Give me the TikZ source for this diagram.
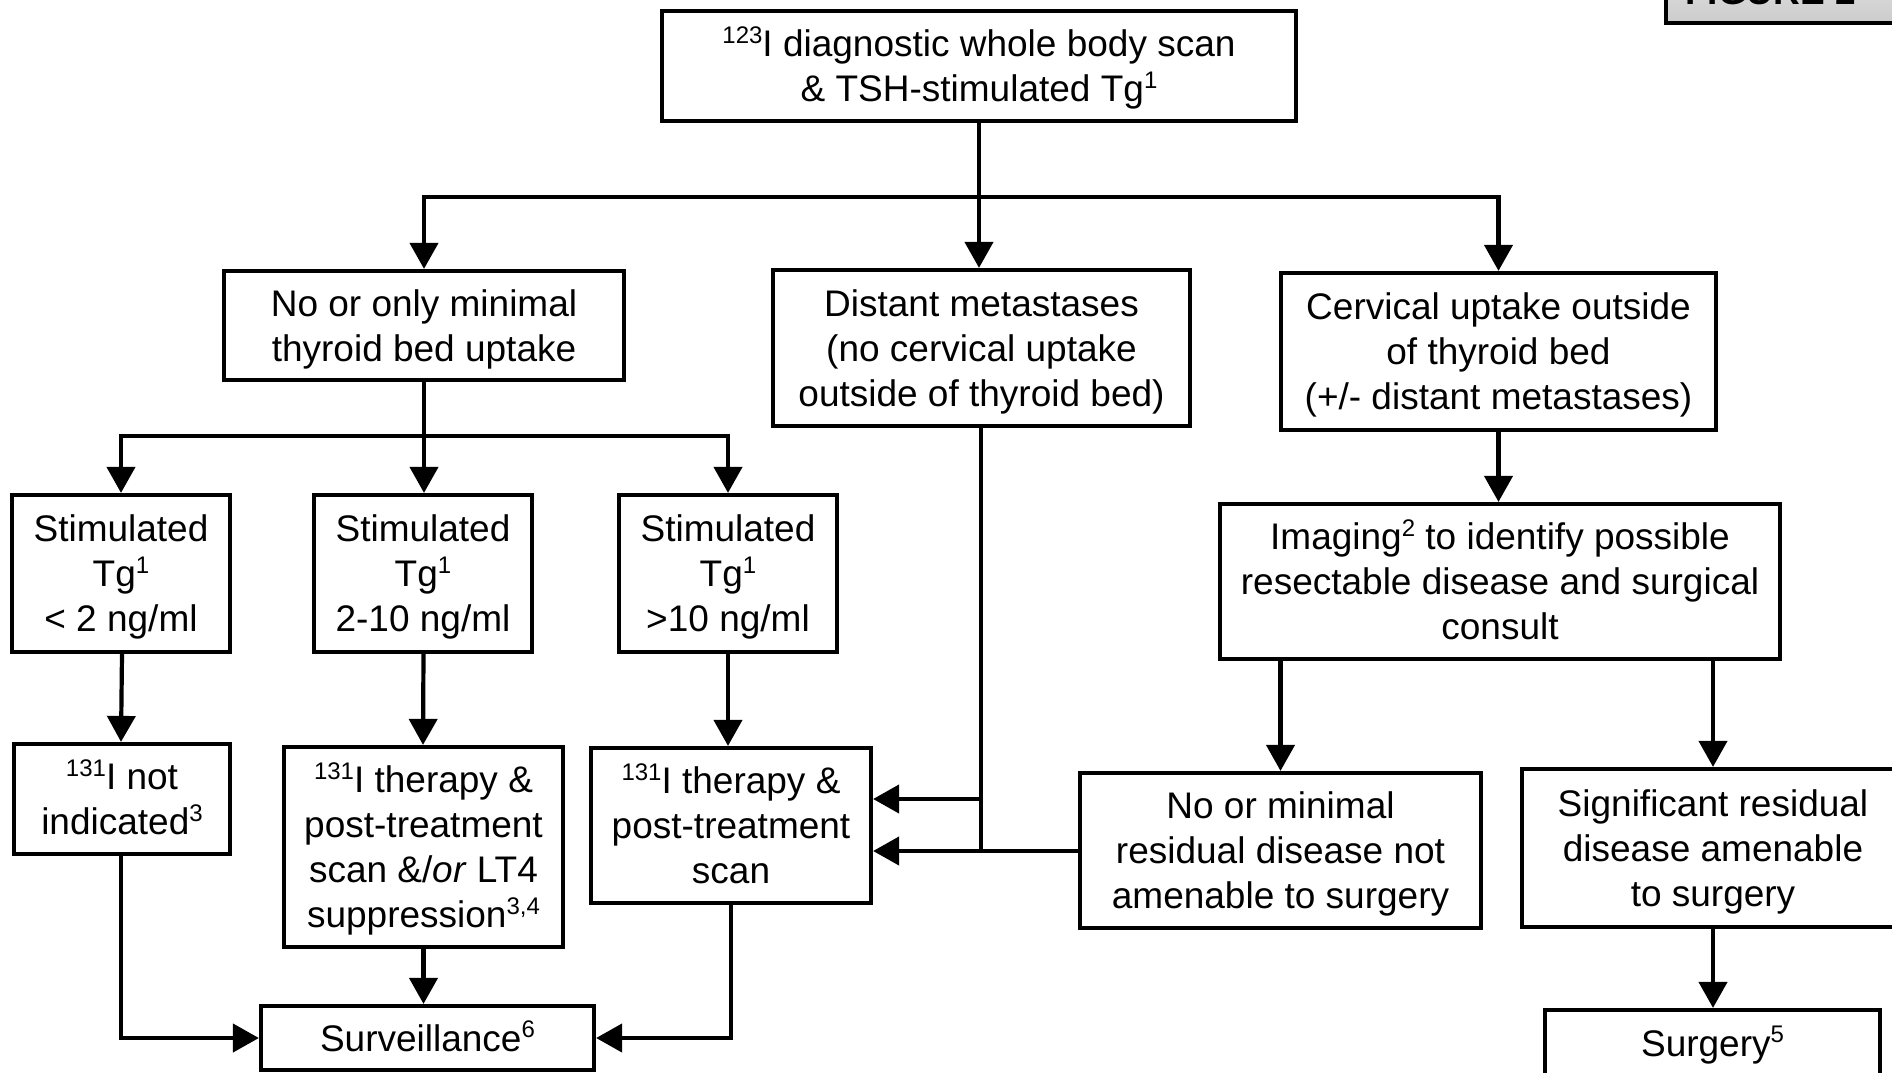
\documentclass[tikz,border=0pt]{standalone}
\usepackage{fontspec}
\setmainfont{Liberation Sans}
\usetikzlibrary{arrows.meta}
\newcommand\supx[1]{\raisebox{0.36em}{\fontsize{24}{24}\selectfont #1}}
% #1 = number of lines minus one; box height = cap top of first line to last baseline
\newcommand\tx[2]{\raisebox{0pt}[\dimexpr 45pt*#1+26.5pt\relax][0pt]{\begin{tabular}[b]{@{}c@{}}#2\end{tabular}}}
\begin{document}
\begin{tikzpicture}[x=1pt,y=-1pt,
  box/.style={draw,line width=4.2pt,inner sep=0pt,
    font=\fontsize{37}{45}\selectfont},
  conn/.style={line width=4.2pt},
  arr/.style={line width=4.2pt,-{Triangle[length=26pt,width=28pt]}}]
\useasboundingbox (0,0) rectangle (1892,1073);
\clip (0,0) rectangle (1892,1073);
% FIGURE 2 tab
\path[draw,line width=3.5pt,top color=gray!15,bottom color=gray!40] (1666,-60) rectangle (1960,23);
\node[anchor=base west,inner sep=0pt,font=\fontsize{37}{45}\selectfont\bfseries] (fig) at (1685,5) {FIGURE 2};
% nodes
\node[box,minimum width=634,minimum height=110] (top) at (979,66)
  {\tx{1}{\supx{123}I diagnostic whole body scan\\\& TSH-stimulated Tg\supx{1}}};
\node[box,minimum width=400,minimum height=109] (noup) at (424,325.5)
  {\tx{1}{No or only minimal\\thyroid bed uptake}};
\node[box,minimum width=417,minimum height=156] (dist) at (981.5,348)
  {\tx{2}{Distant metastases\\(no cervical uptake\\outside of thyroid bed)}};
\node[box,minimum width=435,minimum height=157] (cerv) at (1498.5,351.5)
  {\tx{2}{Cervical uptake outside\\of thyroid bed\\(+/- distant metastases)}};
\node[box,minimum width=218,minimum height=157] (s1) at (121,573.5)
  {\tx{2}{Stimulated\\Tg\supx{1}\\< 2 ng/ml}};
\node[box,minimum width=218,minimum height=157] (s2) at (423,573.5)
  {\tx{2}{Stimulated\\Tg\supx{1}\\2-10 ng/ml}};
\node[box,minimum width=218,minimum height=157] (s3) at (728,573.5)
  {\tx{2}{Stimulated\\Tg\supx{1}\\>10 ng/ml}};
\node[box,minimum width=560,minimum height=155] (img) at (1500,581.5)
  {\tx{2}{Imaging\supx{2} to identify possible\\resectable disease and surgical\\consult}};
\node[box,minimum width=216,minimum height=110] (ni) at (122,799)
  {\tx{1}{\supx{131}I not\\indicated\supx{3}}};
\node[box,minimum width=279,minimum height=200] (t1) at (423.5,847)
  {\tx{3}{\supx{131}I therapy \&\\post-treatment\\scan \&/\textit{or} LT4\\suppression\supx{3,4}}};
\node[box,minimum width=280,minimum height=155] (t2) at (731,825.5)
  {\tx{2}{\supx{131}I therapy \&\\post-treatment\\scan}};
\node[box,minimum width=401,minimum height=155] (nm) at (1280.5,850.5)
  {\tx{2}{No or minimal\\residual disease not\\amenable to surgery}};
\node[box,minimum width=382,minimum height=158] (sig) at (1713,848)
  {\tx{2}{Significant residual\\disease amenable\\to surgery}};
\node[box,minimum width=333,minimum height=64] (surv) at (427.5,1038)
  {\tx{0}{Surveillance\supx{6}}};
\node[box,minimum width=335,minimum height=66] (surg) at (1712.5,1043)
  {\tx{0}{Surgery\supx{5}}};
% junction coordinates
\coordinate (j1) at (979,197);
\coordinate (j1l) at (424,197);
\coordinate (j1r) at (1498.5,197);
\coordinate (j2) at (424,436);
\coordinate (j2l) at (121,436);
\coordinate (j2r) at (728,436);
\coordinate (j3) at (981,851);
% connectors
\draw[conn] (top.south -| j1) -- (j1);
\draw[conn,line cap=rect] (j1l) -- (j1r);
\draw[arr] (j1l) -- (noup.north -| j1l);
\draw[arr] (j1) -- (dist.north -| j1);
\draw[arr] (j1r) -- (cerv.north -| j1r);
\draw[conn] (noup.south -| j2) -- (j2);
\draw[conn,line cap=rect] (j2l) -- (j2r);
\draw[arr] (j2l) -- (s1.north -| j2l);
\draw[arr] (j2) -- (s2.north -| j2);
\draw[arr] (j2r) -- (s3.north -| j2r);
\draw[arr] (s1.south -| ni) -- (ni.north -| s1);
\draw[arr] (s2.south -| t1) -- (t1.north -| s2);
\draw[arr] (s3.south) -- (t2.north -| s3);
\draw[conn,line cap=rect] (dist.south -| j3) -- (j3);
\draw[arr] (981,799) -- (t2.east |- 0,799);
\draw[arr] (nm.west |- j3) -- (t2.east |- j3);
\draw[arr] (cerv.south) -- (img.north -| cerv);
\draw[arr] (img.south -| nm) -- (nm.north);
\draw[arr] (img.south -| sig) -- (sig.north);
\draw[arr] (sig.south) -- (surg.north -| sig);
\draw[arr] (t1.south) -- (surv.north -| t1);
\draw[arr] (ni.south -| 121,0) |- (surv.west);
\draw[arr] (t2.south) |- (surv.east);
\end{tikzpicture}
\end{document}
